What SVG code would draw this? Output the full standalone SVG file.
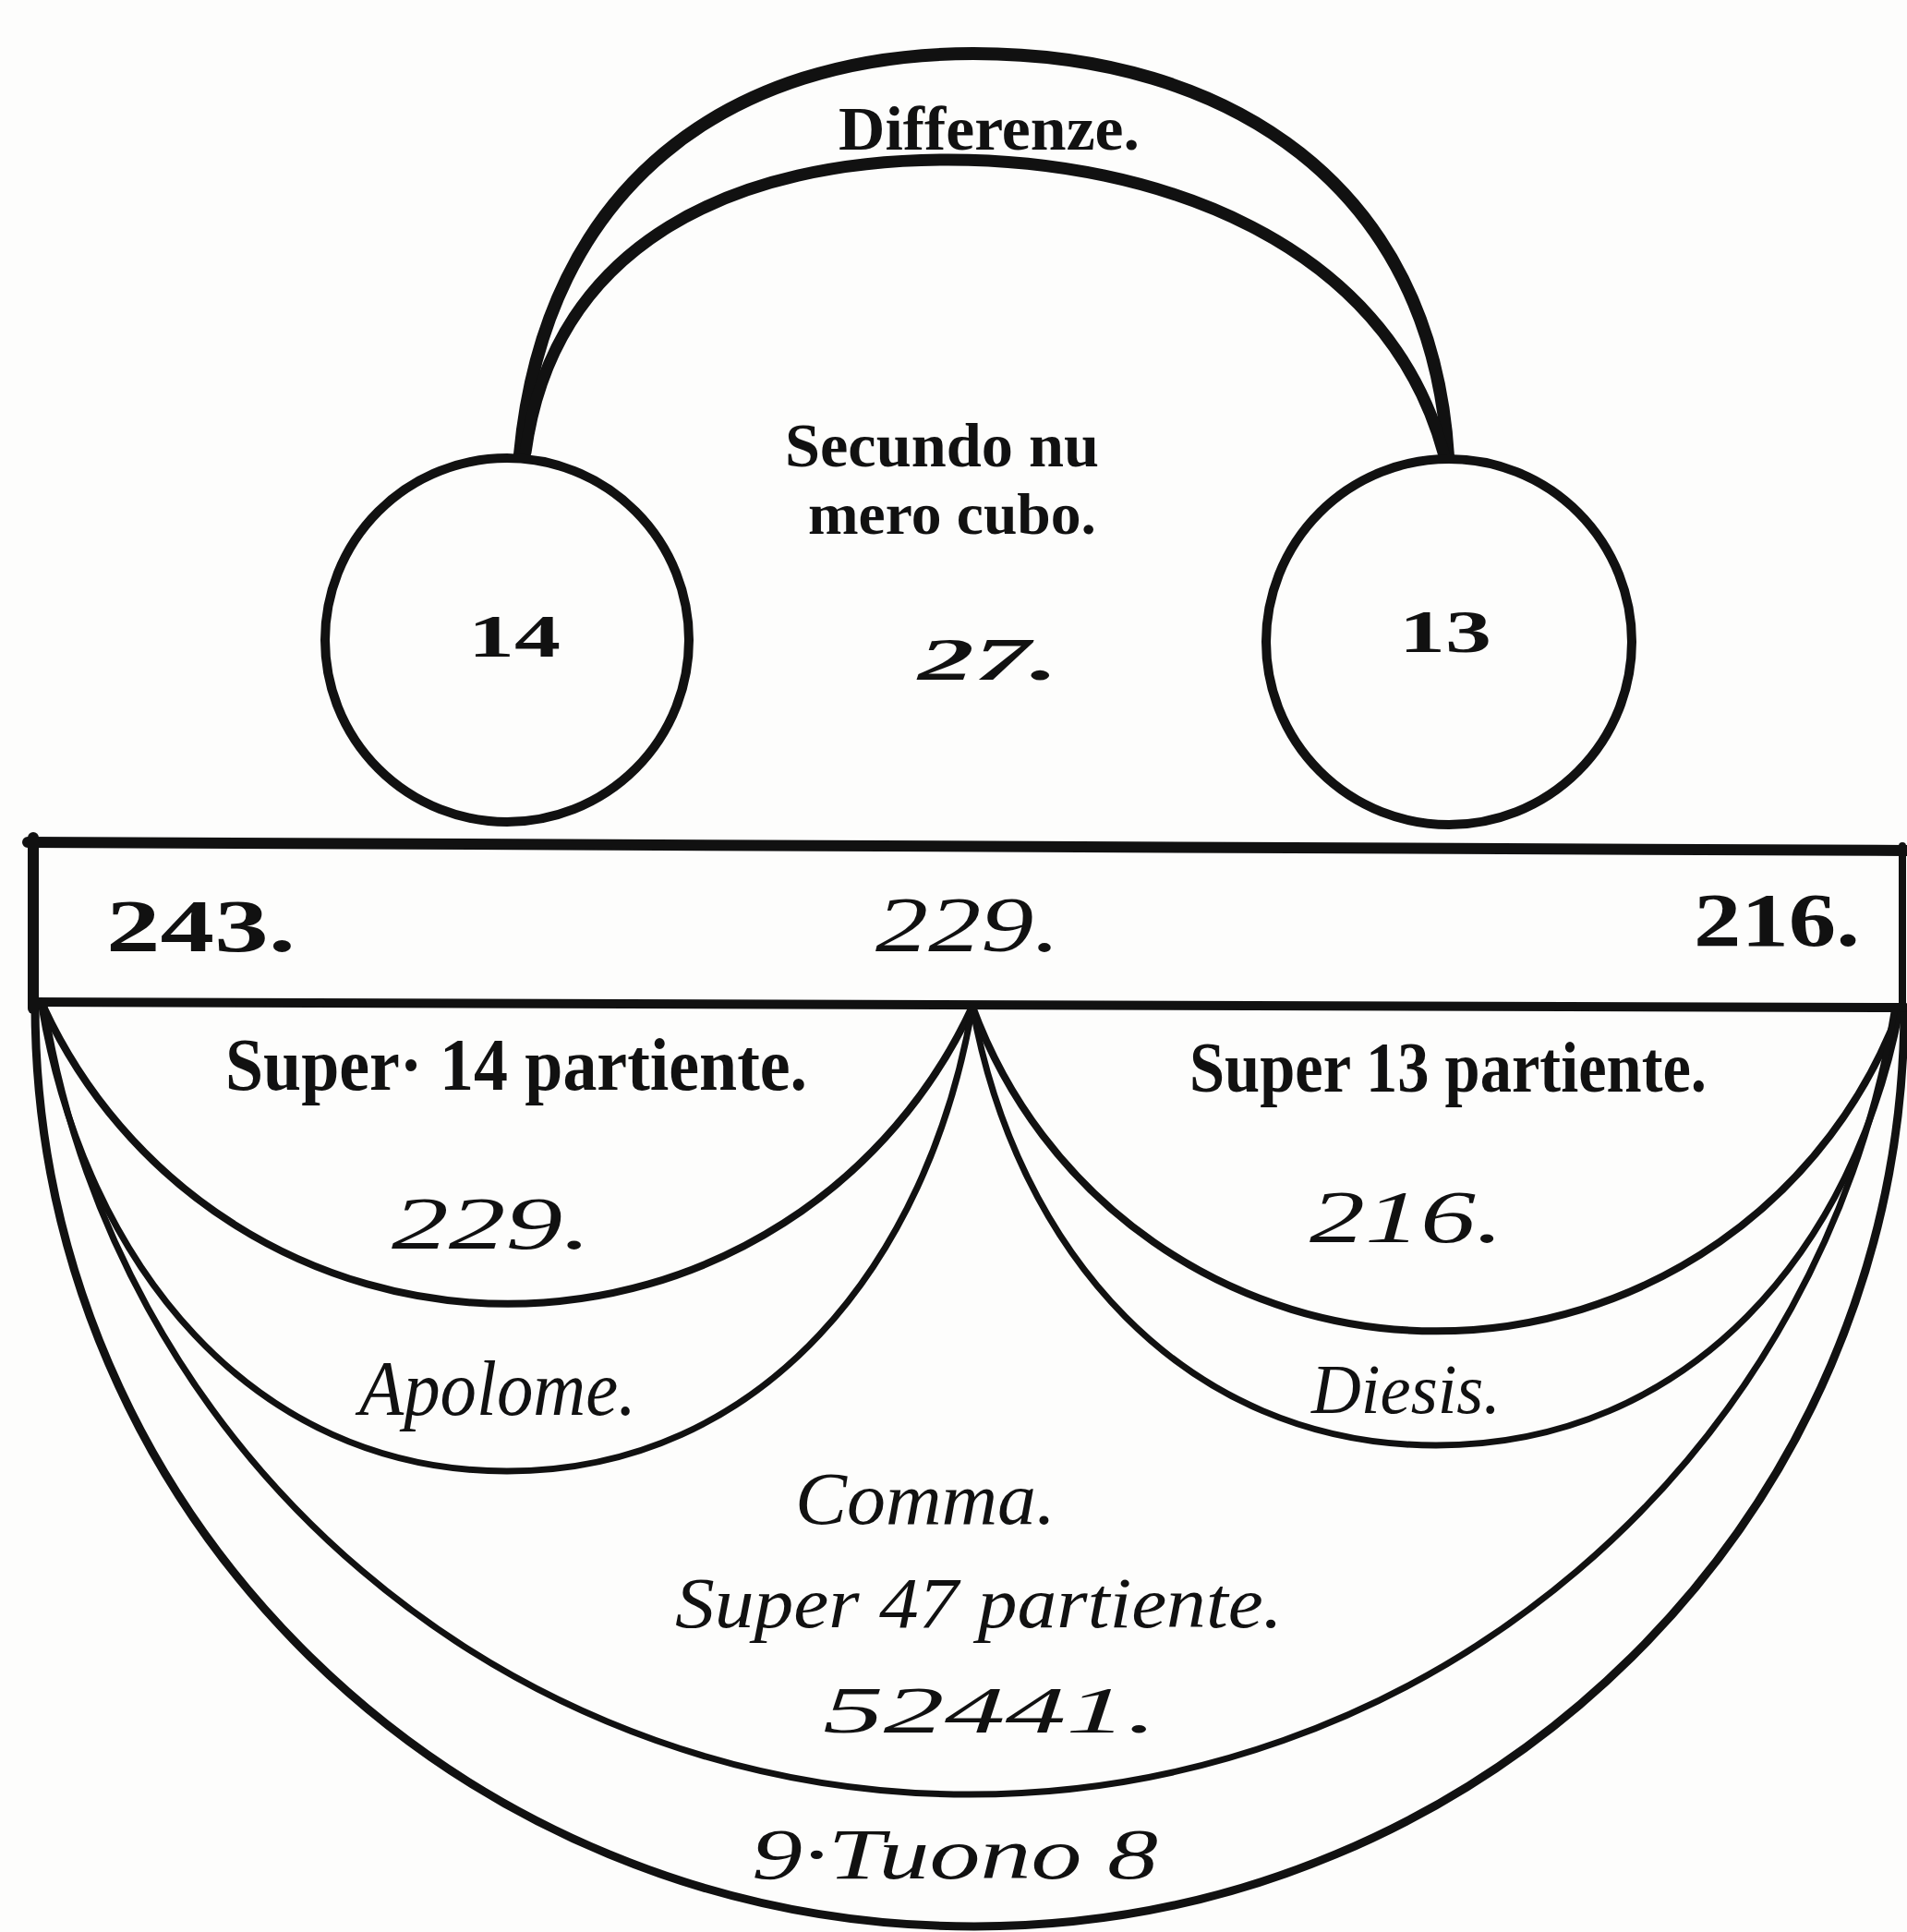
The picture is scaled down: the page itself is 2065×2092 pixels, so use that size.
<svg xmlns="http://www.w3.org/2000/svg" width="2065" height="2092" viewBox="0 0 2065 2092">
<style>
  .ink { fill: none; stroke: #111; stroke-linecap: round; stroke-linejoin: round; }
  .bl { font-family: "Liberation Serif", "DejaVu Serif", serif; font-weight: bold; fill: #111; }
  .it { font-family: "Liberation Serif", "DejaVu Serif", serif; font-style: italic; fill: #111; }
</style>
<rect x="0" y="0" width="2065" height="2092" fill="#fdfdfc"/>

<g id="connectors">
  <!-- top arches (Differenze) -->
  <path class="ink" stroke-width="14" d="M563,492 C590,200 790,58 1054,58 C1330,58 1550,200 1568,494"/>
  <path class="ink" stroke-width="13" d="M569,490 C600,260 800,173 1027,173 C1250,173 1500,260 1563,490"/>
  <!-- lower arcs, left half -->
  <path class="ink" stroke-width="8" d="M47,1090 A554,554 0 0,0 1053,1090"/>
  <path class="ink" stroke-width="7" d="M45,1090 C92,1367 272,1593 549,1593 C826,1593 1006,1367 1053,1090"/>
  <!-- lower arcs, right half -->
  <path class="ink" stroke-width="8" d="M1053,1090 A535,535 0 0,0 2058,1090"/>
  <path class="ink" stroke-width="7" d="M1053,1090 C1100,1352 1280,1565 1555,1565 C1830,1565 2010,1352 2058,1090"/>
  <!-- great arcs -->
  <path class="ink" stroke-width="7" d="M48,1090 A1015,1015 0 0,0 2052,1090"/>
  <path class="ink" stroke-width="9" d="M38,1088 C38,1640 493,2086 1055,2086 C1611,2086 2062,1640 2062,1090"/>
</g>

<g id="node-14">
  <circle class="ink" cx="549" cy="693" r="197" stroke-width="10"/>
  <text class="bl" x="507" y="711" font-size="66" textLength="100" lengthAdjust="spacingAndGlyphs">14</text>
</g>

<g id="node-13">
  <circle class="ink" cx="1569" cy="695" r="198" stroke-width="10"/>
  <text class="bl" x="1515" y="706" font-size="66" textLength="100" lengthAdjust="spacingAndGlyphs">13</text>
</g>

<g id="node-differenze">
  <text class="bl" x="908" y="162" font-size="68" textLength="326" lengthAdjust="spacingAndGlyphs">Differenze.</text>
</g>

<g id="node-cubo">
  <text class="bl" x="850" y="505" font-size="68" textLength="340" lengthAdjust="spacingAndGlyphs">Secundo nu</text>
  <text class="bl" x="875" y="578" font-size="64" textLength="312" lengthAdjust="spacingAndGlyphs">mero cubo.</text>
  <text class="bl" x="994" y="736" font-size="66" font-style="italic" textLength="152" lengthAdjust="spacingAndGlyphs">27.</text>
</g>

<g id="node-band">
  <path class="ink" stroke-width="12" d="M30,912 L2064,921"/>
  <path class="ink" stroke-width="10" d="M36,1085 L2062,1091"/>
  <path class="ink" stroke-width="12" d="M36,907 L36,1092"/>
  <path class="ink" stroke-width="8" d="M2060,916 L2060,1092"/>
  <text class="bl" x="115" y="1030" font-size="80" textLength="205" lengthAdjust="spacingAndGlyphs">243.</text>
  <text class="it" x="948" y="1030" font-size="84" textLength="200" lengthAdjust="spacingAndGlyphs">229.</text>
  <text class="bl" x="1834" y="1024" font-size="82" textLength="180" lengthAdjust="spacingAndGlyphs">216.</text>
</g>

<g id="node-super14">
  <text class="bl" x="244" y="1180" font-size="80" textLength="630" lengthAdjust="spacingAndGlyphs">Super· 14 partiente.</text>
  <text class="it" x="424" y="1352" font-size="80" textLength="216" lengthAdjust="spacingAndGlyphs">229.</text>
</g>

<g id="node-super13">
  <text class="bl" x="1288" y="1182" font-size="78" textLength="560" lengthAdjust="spacingAndGlyphs">Super 13 partiente.</text>
  <text class="it" x="1418" y="1345" font-size="80" textLength="210" lengthAdjust="spacingAndGlyphs">216.</text>
</g>

<g id="node-apolome">
  <text class="it" x="389" y="1532" font-size="84" textLength="300" lengthAdjust="spacingAndGlyphs">Apolome.</text>
</g>

<g id="node-diesis">
  <text class="it" x="1420" y="1530" font-size="76" textLength="205" lengthAdjust="spacingAndGlyphs">Diesis.</text>
</g>

<g id="node-comma">
  <text class="it" x="861" y="1650" font-size="80" textLength="282" lengthAdjust="spacingAndGlyphs">Comma.</text>
  <text class="it" x="731" y="1762" font-size="78" textLength="658" lengthAdjust="spacingAndGlyphs">Super 47 partiente.</text>
  <text class="it" x="891" y="1876" font-size="72" textLength="362" lengthAdjust="spacingAndGlyphs">52441.</text>
</g>

<g id="node-tuono">
  <text class="it" x="814" y="2034" font-size="78" textLength="440" lengthAdjust="spacingAndGlyphs">9·Tuono 8</text>
</g>
</svg>
